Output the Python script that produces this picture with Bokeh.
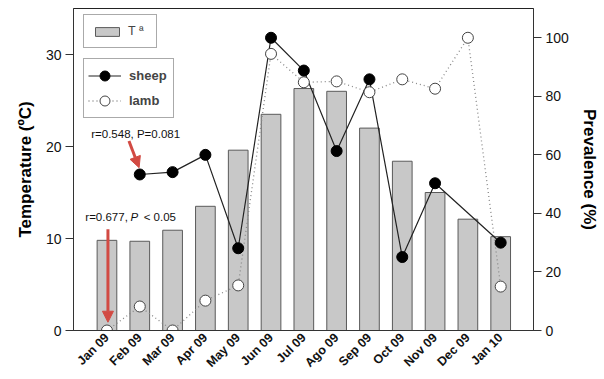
from bokeh.plotting import figure
from bokeh.models import (Range1d, LinearAxis, FixedTicker, Legend, LegendItem,
                          Label, Arrow, NormalHead)
from bokeh.embed import file_html
from bokeh.resources import INLINE

# ---- data ----
months = ["Jan 09", "Feb 09", "Mar 09", "Apr 09", "May 09", "Jun 09", "Jul 09",
          "Ago 09", "Sep 09", "Oct 09", "Nov 09", "Dec 09", "Jan 10"]
temperature = [9.8, 9.7, 10.9, 13.5, 19.6, 23.5, 26.3, 26.0, 22.0, 18.4, 15.0, 12.1, 10.2]
sheep = [None, 53.3, 54.1, 60.0, 28.1, 100.0, 88.8, 61.3, 85.8, 25.1, 50.3, None, 30.0]
lamb = [0.0, 8.2, 0.0, 10.2, 15.4, 94.5, 84.8, 85.1, 81.4, 85.8, 82.6, 100.0, 15.0]
temp_ticks = [0, 10, 20, 30]
prev_ticks = [0, 20, 40, 60, 80, 100]

FONT = "Liberation Sans"
idx = list(range(len(months)))
sheep_x = [i for i, v in zip(idx, sheep) if v is not None]
sheep_y = [v for v in sheep if v is not None]

p = figure(width=604, height=379, output_backend="svg", toolbar_location=None,
           x_range=Range1d(-1.02, 13.0), y_range=Range1d(0, 35),
           min_border_left=73, min_border_right=71, min_border_top=8, min_border_bottom=49)
p.extra_y_ranges = {"prev": Range1d(0, 110)}
p.xgrid.visible = False
p.ygrid.visible = False
p.outline_line_color = "#222222"
p.outline_line_width = 1
p.background_fill_color = "white"
p.border_fill_color = "white"

# bars
bars = p.vbar(x=idx, top=temperature, width=0.6, fill_color="#c8c8c8",
              line_color="#5a5a5a", line_width=1)

# lamb
lamb_line = p.line(idx, lamb, y_range_name="prev", line_color="#888888",
                   line_dash="1 3", line_width=1.3)
# sheep
sheep_line = p.line(sheep_x, sheep_y, y_range_name="prev", line_color="#222222",
                    line_width=1.2)
lamb_pts = p.scatter(idx, lamb, y_range_name="prev", size=11, marker="circle",
                     fill_color="white", line_color="#444444", line_width=1)
sheep_pts = p.scatter(sheep_x, sheep_y, y_range_name="prev", size=11, marker="circle",
                      fill_color="black", line_color="black")

# axes
xa = p.xaxis[0]
xa.ticker = FixedTicker(ticks=idx)
xa.major_label_overrides = {i: m for i, m in enumerate(months)}
xa.major_label_orientation = 0.785
xa.major_tick_out = 0
xa.major_tick_in = 0
xa.minor_tick_out = 0
xa.minor_tick_in = 0
xa.major_label_standoff = 5
xa.major_label_text_font = FONT
xa.major_label_text_font_style = "bold"
xa.major_label_text_font_size = "12.5px"
xa.major_label_text_color = "#111111"
xa.axis_line_color = "#333333"

ya = p.yaxis[0]
ya.ticker = FixedTicker(ticks=temp_ticks)
ya.axis_label = "Temperature (ºC)"
ra = LinearAxis(y_range_name="prev", ticker=FixedTicker(ticks=prev_ticks),
                axis_label="Prevalence (%)")
p.add_layout(ra, "right")
for ax in (ya, ra):
    ax.major_tick_out = 8
    ax.major_tick_in = 0
    ax.minor_tick_out = 0
    ax.minor_tick_in = 0
    ax.axis_line_color = "#333333"
    ax.major_tick_line_color = "#333333"
    ax.major_label_text_font = FONT
    ax.major_label_text_font_size = "14px"
    ax.major_label_text_color = "#111111"
    ax.major_label_standoff = 4
    ax.axis_label_text_font = FONT
    ax.axis_label_text_font_size = "17px"
    ax.axis_label_text_font_style = "bold"
    ax.axis_label_text_color = "black"
    ax.axis_label_standoff = 8

# legends
leg1 = Legend(items=[LegendItem(label="T ª", renderers=[bars])],
              location=(10, 282), margin=0, padding=8, spacing=0,
              glyph_width=30, glyph_height=11, label_height=16, label_standoff=6,
              label_text_font=FONT, label_text_font_size="12.5px",
              border_line_color="#555555", background_fill_alpha=1)
leg2 = Legend(items=[LegendItem(label="sheep", renderers=[sheep_line, sheep_pts]),
                     LegendItem(label="lamb", renderers=[lamb_line, lamb_pts])],
              location=(10, 212), margin=0, padding=4, spacing=-11,
              glyph_width=33, glyph_height=25, label_height=16, label_standoff=8,
              label_width=40,
              label_text_font=FONT, label_text_font_size="13px",
              label_text_font_style="bold",
              border_line_color="#555555", background_fill_alpha=1)
p.add_layout(leg1, "center")
p.add_layout(leg2, "center")

# annotations
RED = "#d24a43"
common = dict(text_font=FONT, text_font_size="11.5px", text_color="#111111",
              text_baseline="middle")
p.add_layout(Label(x=-0.48, y=21.4, text="r=0.548, P=0.081", **common))
p.add_layout(Label(x=-0.66, y=12.3, text="r=0.677,", **common))
p.add_layout(Label(x=0.72, y=12.3, text="P", text_font_style="italic", **common))
p.add_layout(Label(x=1.12, y=12.3, text="< 0.05", **common))
p.add_layout(Arrow(x_start=0.67, y_start=20.6, x_end=0.98, y_end=17.7,
                   line_color=RED, line_width=3,
                   end=NormalHead(size=11, fill_color=RED, line_color=RED)))
p.add_layout(Arrow(x_start=0.03, y_start=11.0, x_end=0.03, y_end=0.9,
                   line_color=RED, line_width=3,
                   end=NormalHead(size=11, fill_color=RED, line_color=RED)))

open("out.html", "w").write(file_html(p, INLINE))
